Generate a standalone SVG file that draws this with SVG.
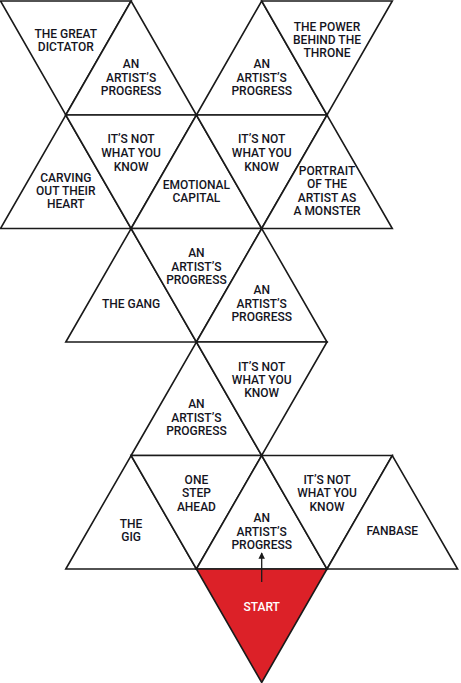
<svg xmlns="http://www.w3.org/2000/svg" width="461" height="683" viewBox="0 0 461 683">
<style>
.t{fill:#ffffff;stroke:#1a1a1a;stroke-width:1.6;stroke-linejoin:miter}
.s{fill:#dc2128;stroke:#1a1a1a;stroke-width:1.6}
text{font-family:Roboto,"Liberation Sans",sans-serif;font-size:12px;font-weight:500;fill:#14141e;text-anchor:middle}
.w{fill:#ffffff}
</style>
<defs>
<marker id="ah" viewBox="0 0 10 10" refX="9" refY="5" markerWidth="5" markerHeight="5" orient="auto">
<path d="M0,0 L10,5 L0,10 z" fill="#1a1a1a"/>
</marker>
</defs>
<rect width="461" height="683" fill="#ffffff"/>
<g id="great-dictator"><polygon class="t" points="0.5,1 131.1,1 65.8,115"/><text x="65.8" y="38">THE GREAT</text><text x="65.8" y="51">DICTATOR</text></g>
<g id="progress-1"><polygon class="t" points="65.8,115 131.1,1 196.4,115"/><text x="131.1" y="68">AN</text><text x="131.1" y="81.5">ARTIST’S</text><text x="131.1" y="95">PROGRESS</text></g>
<g id="progress-2"><polygon class="t" points="196.4,115 261.7,1 327,115"/><text x="261.7" y="68">AN</text><text x="261.7" y="81.5">ARTIST’S</text><text x="261.7" y="95">PROGRESS</text></g>
<g id="power-behind-throne"><polygon class="t" points="261.7,1 392.3,1 327,115"/><text x="327" y="31">THE POWER</text><text x="327" y="44">BEHIND THE</text><text x="327" y="57">THRONE</text></g>
<g id="carving"><polygon class="t" points="0.5,228.5 65.8,115 131.1,228.5"/><text x="65.8" y="182">CARVING</text><text x="65.8" y="195">OUT THEIR</text><text x="65.8" y="208">HEART</text></g>
<g id="not-what-1"><polygon class="t" points="65.8,115 196.4,115 131.1,228.5"/><text x="131.1" y="143">IT’S NOT</text><text x="131.1" y="157">WHAT YOU</text><text x="131.1" y="171">KNOW</text></g>
<g id="emotional-capital"><polygon class="t" points="131.1,228.5 196.4,115 261.7,228.5"/><text x="196.4" y="189">EMOTIONAL</text><text x="196.4" y="202">CAPITAL</text></g>
<g id="not-what-2"><polygon class="t" points="196.4,115 327,115 261.7,228.5"/><text x="261.7" y="143">IT’S NOT</text><text x="261.7" y="157">WHAT YOU</text><text x="261.7" y="171">KNOW</text></g>
<g id="portrait"><polygon class="t" points="261.7,228.5 327,115 392.3,228.5"/><text x="327" y="175">PORTRAIT</text><text x="327" y="188">OF THE</text><text x="327" y="202">ARTIST AS</text><text x="327" y="215">A MONSTER</text></g>
<g id="the-gang"><polygon class="t" points="65.8,342 131.1,228.5 196.4,342"/><text x="131.1" y="308">THE GANG</text></g>
<g id="progress-3"><polygon class="t" points="131.1,228.5 261.7,228.5 196.4,342"/><text x="196.4" y="257">AN</text><text x="196.4" y="270.5">ARTIST’S</text><text x="196.4" y="284">PROGRESS</text></g>
<g id="progress-4"><polygon class="t" points="196.4,342 261.7,228.5 327,342"/><text x="261.7" y="294">AN</text><text x="261.7" y="307.5">ARTIST’S</text><text x="261.7" y="321">PROGRESS</text></g>
<g id="progress-5"><polygon class="t" points="131.1,455.5 196.4,342 261.7,455.5"/><text x="196.4" y="408">AN</text><text x="196.4" y="421.5">ARTIST’S</text><text x="196.4" y="435">PROGRESS</text></g>
<g id="not-what-3"><polygon class="t" points="196.4,342 327,342 261.7,455.5"/><text x="261.7" y="371">IT’S NOT</text><text x="261.7" y="384">WHAT YOU</text><text x="261.7" y="397">KNOW</text></g>
<g id="the-gig"><polygon class="t" points="65.8,569 131.1,455.5 196.4,569"/><text x="131.1" y="528">THE</text><text x="131.1" y="541">GIG</text></g>
<g id="one-step-ahead"><polygon class="t" points="131.1,455.5 261.7,455.5 196.4,569"/><text x="196.4" y="484">ONE</text><text x="196.4" y="497">STEP</text><text x="196.4" y="511">AHEAD</text></g>
<g id="progress-6"><polygon class="t" points="196.4,569 261.7,455.5 327,569"/><text x="261.7" y="522">AN</text><text x="261.7" y="535.5">ARTIST’S</text><text x="261.7" y="549">PROGRESS</text></g>
<g id="not-what-4"><polygon class="t" points="261.7,455.5 392.3,455.5 327,569"/><text x="327" y="484">IT’S NOT</text><text x="327" y="497">WHAT YOU</text><text x="327" y="511">KNOW</text></g>
<g id="fanbase"><polygon class="t" points="327,569 392.3,455.5 457.6,569"/><text x="392.3" y="535">FANBASE</text></g>
<g id="start"><polygon class="s" points="196.4,569 327,569 261.7,682.5"/><text class="w" x="261.7" y="611">START</text></g>
<g id="connectors"><line x1="261.7" y1="582" x2="261.7" y2="553" stroke="#1a1a1a" stroke-width="1.3" marker-end="url(#ah)"/></g>
</svg>
